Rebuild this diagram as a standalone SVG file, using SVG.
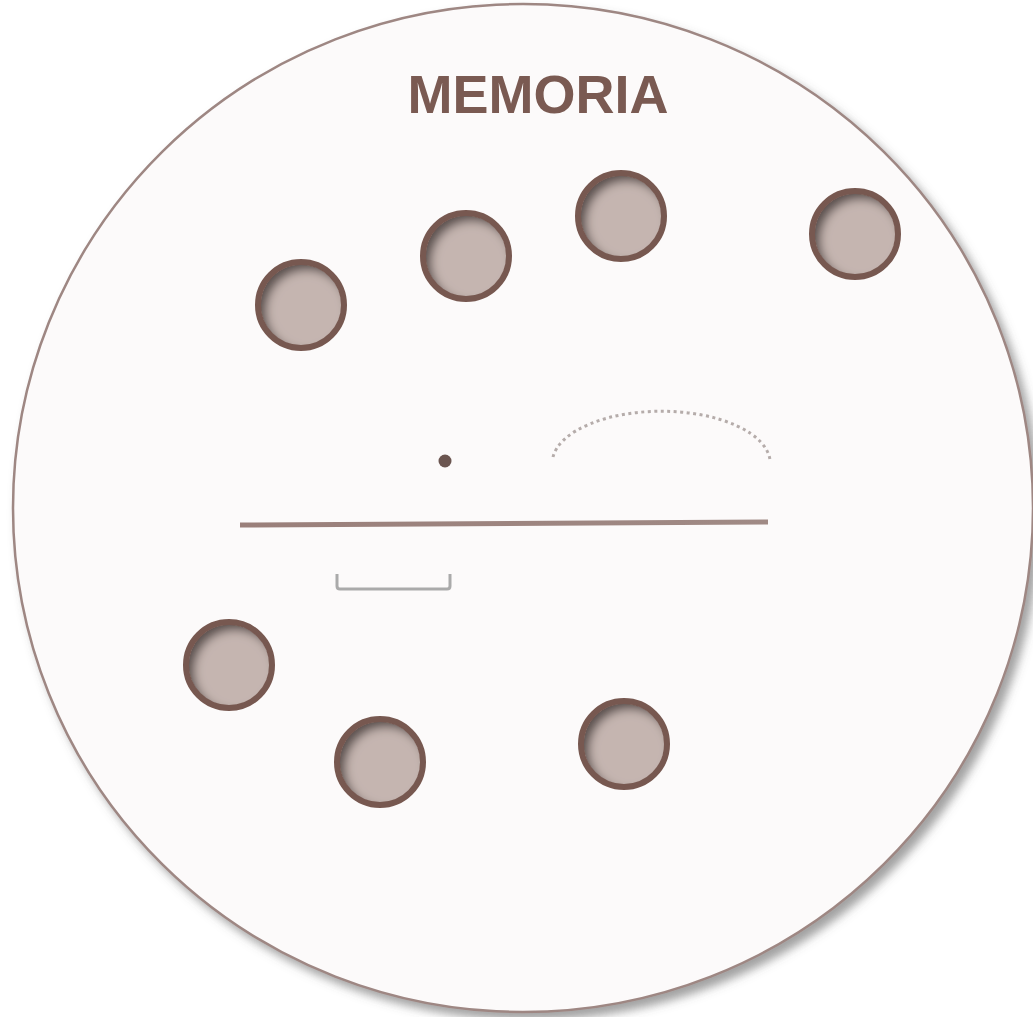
<svg xmlns="http://www.w3.org/2000/svg" width="1033" height="1017" viewBox="0 0 1033 1017">
<defs>
<filter id="drop" x="-5%" y="-5%" width="115%" height="115%">
<feDropShadow dx="6" dy="7" stdDeviation="5" flood-color="#555" flood-opacity="0.55"/>
</filter>
<filter id="inset" x="-20%" y="-20%" width="140%" height="140%">
<feFlood flood-color="#2e201d" flood-opacity="0.85"/>
<feComposite in2="SourceAlpha" operator="out"/>
<feGaussianBlur stdDeviation="5"/>
<feOffset dx="6" dy="6" result="sh"/>
<feComposite in="sh" in2="SourceAlpha" operator="in" result="inner"/>
<feMerge><feMergeNode in="SourceGraphic"/><feMergeNode in="inner"/></feMerge>
</filter>
<linearGradient id="lineg" x1="0" x2="1" y1="0" y2="0">
<stop offset="0" stop-color="#9a7f7a"/>
<stop offset="1" stop-color="#a08a85"/>
</linearGradient>
</defs>
<style>
.hole{fill:#c5b5b0;filter:url(#inset)}
.ring{fill:none;stroke:#775850;stroke-width:6}
.title{font-family:"Liberation Sans",Arial,sans-serif;font-weight:bold;font-size:54px;fill:#7a5a52}
</style>
<rect width="1033" height="1017" fill="#ffffff"/>
<g id="memoria">
<ellipse cx="523" cy="508" rx="510" ry="504" fill="#fcfafa" stroke="#9e8783" stroke-width="2.5" filter="url(#drop)"/>
<text class="title" x="538" y="113" text-anchor="middle">MEMORIA</text>
</g>
<g id="node1"><circle class="hole" cx="301" cy="305" r="40.5"/><circle class="ring" cx="301" cy="305" r="43"/></g>
<g id="node2"><circle class="hole" cx="466" cy="256" r="40.5"/><circle class="ring" cx="466" cy="256" r="43"/></g>
<g id="node3"><circle class="hole" cx="621" cy="216" r="40.5"/><circle class="ring" cx="621" cy="216" r="43"/></g>
<g id="node4"><circle class="hole" cx="855" cy="234" r="40.5"/><circle class="ring" cx="855" cy="234" r="43"/></g>
<g id="node5"><circle class="hole" cx="229" cy="665" r="40.5"/><circle class="ring" cx="229" cy="665" r="43"/></g>
<g id="node6"><circle class="hole" cx="380" cy="762" r="40.5"/><circle class="ring" cx="380" cy="762" r="43"/></g>
<g id="node7"><circle class="hole" cx="624" cy="744" r="40.5"/><circle class="ring" cx="624" cy="744" r="43"/></g>
<g id="connectors">
<circle cx="445" cy="461" r="6.5" fill="#6b5550"/>
<path d="M553,457 A109,52 0 0 1 770,460" fill="none" stroke="#b5acaa" stroke-width="3" stroke-dasharray="3,3.5"/>
<line x1="240" y1="525" x2="768" y2="522" stroke="url(#lineg)" stroke-width="5"/>
<path d="M337,574 V586 Q337,589 340,589 H447 Q450,589 450,586 V574" fill="none" stroke="#aaaaaa" stroke-width="3"/>
</g>
</svg>
